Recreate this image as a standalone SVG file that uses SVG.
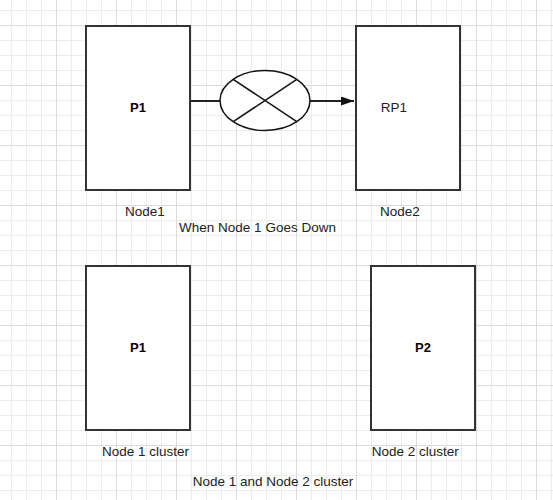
<svg xmlns="http://www.w3.org/2000/svg" width="553" height="500" viewBox="0 0 553 500">
<style>
.box{fill:#fff;stroke:#333;stroke-width:2}
.bold{font-family:"Liberation Sans",Arial,sans-serif;font-size:13px;font-weight:bold;fill:#000;text-anchor:middle}
.lbl{font-family:"Liberation Sans",Arial,sans-serif;font-size:13.5px;fill:#222;text-anchor:middle}
.conn{stroke:#222;stroke-width:2;fill:none}
</style>
<defs>
<pattern id="grid" patternUnits="userSpaceOnUse" x="-4" y="25" width="60" height="60">
<path d="M15.5 0V60M30.5 0V60M45.5 0V60M0 15.5H60M0 30.5H60M0 45.5H60" stroke="#ececec" stroke-width="1"/>
<path d="M0.5 0V60M0 0.5H60" stroke="#dcdcdc" stroke-width="1"/>
</pattern>
<marker id="arrow" markerWidth="13" markerHeight="9" refX="13" refY="4.5" orient="auto" markerUnits="userSpaceOnUse">
<path d="M0 0L13 4.5L0 9Z" fill="#111"/>
</marker>
</defs>
<rect width="553" height="500" fill="#fff"/>
<rect width="553" height="500" fill="url(#grid)"/>
<g id="connectors">
<line class="conn" x1="191" y1="101" x2="220" y2="101"/>
<line class="conn" x1="310" y1="101" x2="354" y2="101" marker-end="url(#arrow)"/>
</g>
<g id="node-p1-top">
<rect class="box" x="86" y="26" width="104" height="164"/>
<text class="bold" x="138" y="112">P1</text>
</g>
<g id="node-rp1">
<rect class="box" x="356" y="26" width="104" height="164"/>
<text class="lbl" x="394" y="112">RP1</text>
</g>
<g id="node-failure">
<ellipse cx="265" cy="100.5" rx="45" ry="30" fill="#fff" stroke="#111" stroke-width="1.5"/>
<line x1="233.2" y1="79.3" x2="296.8" y2="121.7" stroke="#111" stroke-width="1.5"/>
<line x1="296.8" y1="79.3" x2="233.2" y2="121.7" stroke="#111" stroke-width="1.5"/>
</g>
<g id="node-p1-bottom">
<rect class="box" x="86" y="266" width="104" height="164"/>
<text class="bold" x="138" y="352">P1</text>
</g>
<g id="node-p2">
<rect class="box" x="371" y="266" width="104" height="164"/>
<text class="bold" x="423" y="352">P2</text>
</g>
<g id="labels">
<text class="lbl" x="145" y="216">Node1</text>
<text class="lbl" x="400" y="216">Node2</text>
<text class="lbl" x="257.5" y="232">When Node 1 Goes Down</text>
<text class="lbl" x="145.5" y="456">Node 1 cluster</text>
<text class="lbl" x="415.3" y="456">Node 2 cluster</text>
<text class="lbl" x="273" y="486">Node 1 and Node 2 cluster</text>
</g>
</svg>
